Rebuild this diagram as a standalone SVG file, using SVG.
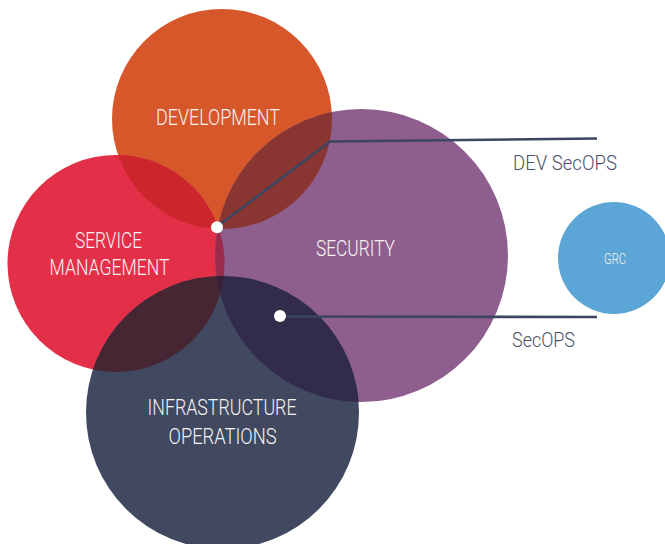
<svg xmlns="http://www.w3.org/2000/svg" width="665" height="544" viewBox="0 0 665 544">
  <style>
    .lbl { font-family: Roboto, "Liberation Sans", sans-serif; font-weight: 300; fill: #F7F2F2; }
    .big { font-size: 22px; }
    .small { font-size: 15px; }
    .tag { font-family: Roboto, "Liberation Sans", sans-serif; font-weight: 300; font-size: 21px; fill: #4A5068; }
    .conn { fill: none; stroke: #3D4660; stroke-width: 2.6; stroke-linejoin: round; }
    .dot { fill: #FFFFFF; }
  </style>
  <defs>
    <clipPath id="clipDev"><circle cx="222" cy="119" r="110"/></clipPath>
    <clipPath id="clipSvc"><circle cx="116" cy="263.5" r="108.5"/></clipPath>
    <clipPath id="clipSec"><circle cx="361.5" cy="255.5" r="146.5"/></clipPath>
    <clipPath id="clipInf"><circle cx="222.5" cy="412.5" r="136.5"/></clipPath>
  </defs>

  <rect width="665" height="544" fill="#FFFFFF"/>

  <!-- base circles -->
  <g id="development">
    <circle cx="222" cy="119" r="110" fill="#D6582A"/>
  </g>
  <g id="service-management">
    <circle cx="116" cy="263.5" r="108.5" fill="#E32F48"/>
  </g>
  <g id="security">
    <circle cx="361.5" cy="255.5" r="146.5" fill="#8E5F8E"/>
  </g>
  <g id="infrastructure-operations">
    <circle cx="222.5" cy="412.5" r="136.5" fill="#404960"/>
  </g>
  <g id="grc">
    <circle cx="614" cy="258" r="56" fill="#5BA6D6"/>
    <text class="lbl small" x="604" y="263.5" textLength="22" lengthAdjust="spacingAndGlyphs">GRC</text>
  </g>

  <!-- overlap regions -->
  <g id="overlaps">
    <circle cx="116" cy="263.5" r="108.5" fill="#CB262C" clip-path="url(#clipDev)"/>
    <circle cx="361.5" cy="255.5" r="146.5" fill="#893531" clip-path="url(#clipDev)"/>
    <circle cx="361.5" cy="255.5" r="146.5" fill="#9A2B4A" clip-path="url(#clipSvc)"/>
    <circle cx="222.5" cy="412.5" r="136.5" fill="#472633" clip-path="url(#clipSvc)"/>
    <circle cx="222.5" cy="412.5" r="136.5" fill="#322B4B" clip-path="url(#clipSec)"/>
    <g clip-path="url(#clipDev)">
      <circle cx="361.5" cy="255.5" r="146.5" fill="#862634" clip-path="url(#clipSvc)"/>
    </g>
    <g clip-path="url(#clipSvc)">
      <circle cx="222.5" cy="412.5" r="136.5" fill="#3A2236" clip-path="url(#clipSec)"/>
    </g>
  </g>

  <!-- circle labels -->
  <g id="labels">
    <text class="lbl big" x="156" y="124.5" textLength="124" lengthAdjust="spacingAndGlyphs">DEVELOPMENT</text>
    <text class="lbl big" x="75" y="248" textLength="67" lengthAdjust="spacingAndGlyphs">SERVICE</text>
    <text class="lbl big" x="49.5" y="275" textLength="120" lengthAdjust="spacingAndGlyphs">MANAGEMENT</text>
    <text class="lbl big" x="316" y="255.5" textLength="79" lengthAdjust="spacingAndGlyphs">SECURITY</text>
    <text class="lbl big" x="147.5" y="414.5" textLength="149" lengthAdjust="spacingAndGlyphs">INFRASTRUCTURE</text>
    <text class="lbl big" x="168.5" y="443.5" textLength="108" lengthAdjust="spacingAndGlyphs">OPERATIONS</text>
  </g>

  <!-- connectors -->
  <g id="connectors">
    <polyline class="conn" points="217,227 330,141.5 597,138.5"/>
    <polyline class="conn" points="280,316.5 597,317"/>
    <circle class="dot" cx="217" cy="227.3" r="6"/>
    <circle class="dot" cx="280" cy="316" r="6"/>
  </g>

  <!-- connector captions -->
  <g id="captions">
    <text class="tag" x="513" y="169.5" textLength="104" lengthAdjust="spacingAndGlyphs">DEV SecOPS</text>
    <text class="tag" x="512" y="347" textLength="63" lengthAdjust="spacingAndGlyphs">SecOPS</text>
  </g>
</svg>
